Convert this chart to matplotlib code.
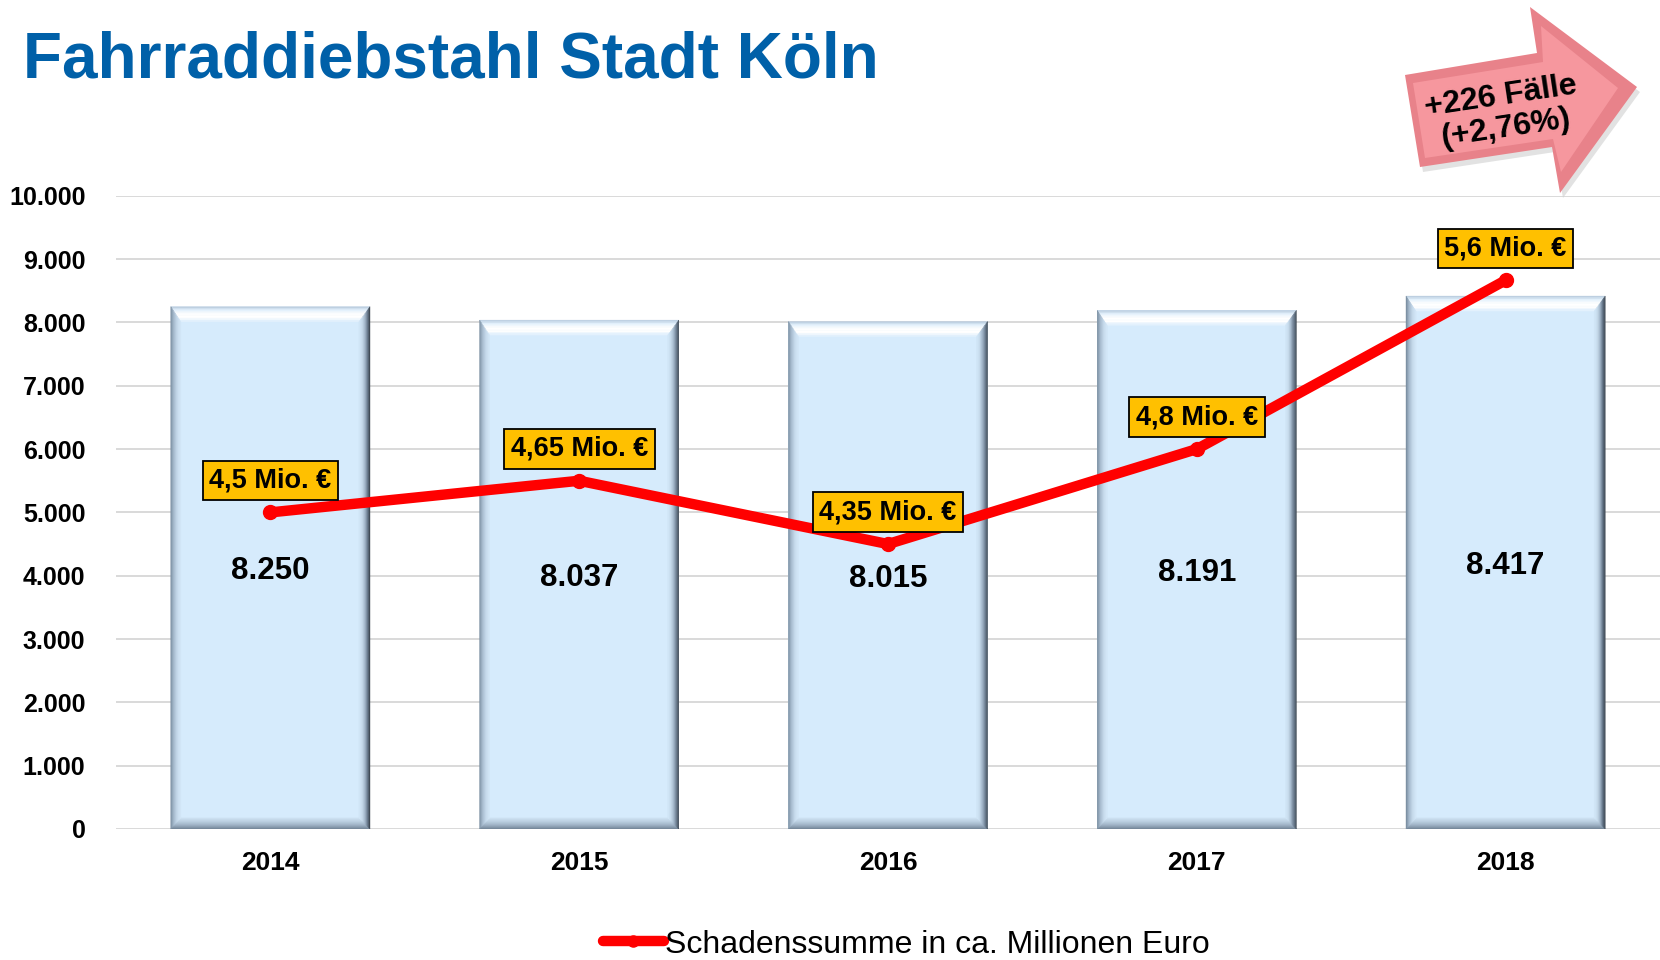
import numpy as np
import matplotlib
matplotlib.use("Agg")
import matplotlib.pyplot as plt
from matplotlib.patches import Polygon
from matplotlib.lines import Line2D
import matplotlib.colors as mcolors

plt.rcParams['font.family'] = ['Liberation Sans', 'DejaVu Sans']

years = ["2014", "2015", "2016", "2017", "2018"]
cases = [8250, 8037, 8015, 8191, 8417]
case_labels = ["8.250", "8.037", "8.015", "8.191", "8.417"]
damage = [4.5, 4.65, 4.35, 4.8, 5.6]
damage_labels = ["4,5 Mio. €", "4,65 Mio. €", "4,35 Mio. €", "4,8 Mio. €", "5,6 Mio. €"]
yticks = [0, 1000, 2000, 3000, 4000, 5000, 6000, 7000, 8000, 9000, 10000]
ytick_labels = ["0", "1.000", "2.000", "3.000", "4.000", "5.000", "6.000", "7.000", "8.000", "9.000", "10.000"]

W, H = 1660, 960
fig = plt.figure(figsize=(W / 100, H / 100), dpi=100)
ax = fig.add_axes([116 / W, 0.1365, 1 - 116 / W, 0.796 - 0.1365])

x = np.arange(len(years))
ax.set_xlim(-0.5, len(years) - 0.5)
ax.set_ylim(0, 10000)
ax.set_yticks(yticks)
ax.set_yticklabels(ytick_labels, fontsize=18, fontweight='bold')
ax.set_xticks(x)
ax.set_xticklabels(years, fontsize=19, fontweight='bold')
ax.tick_params(axis='both', length=0)
ax.tick_params(axis='y', pad=22)
ax.tick_params(axis='x', pad=16)
for s in ax.spines.values():
    s.set_visible(False)
ax.grid(axis='y', color='#D9D9D9', lw=1.4)
ax.set_axisbelow(True)

face = '#D6EBFC'
bars = ax.bar(x, cases, width=0.645, color=face, zorder=2)

# bevel edges derived from each bar's geometry
inv = ax.transData.inverted()
n = 10
side_cfg = {
    'top': (15, ['#B3C7DA', '#E4F1FC', '#FFFFFF', '#FFFFFF', '#DCEEFC']),
    'left': (10, ['#74879A', '#A5B9CC', '#C5D9EA', '#D3E7F8']),
    'right': (11, ['#353E47', '#66778A', '#A2B6C9', '#C6DAEB', '#D3E8F9']),
    'bottom': (11, ['#6F8193', '#95A8BB', '#B6CADC', '#CFE3F4']),
}
def grad(stops, t):
    stops = [np.array(mcolors.to_rgb(c)) for c in stops]
    pos = t * (len(stops) - 1)
    i = min(int(pos), len(stops) - 2)
    f = pos - i
    return tuple(stops[i] + (stops[i + 1] - stops[i]) * f)

for rect in bars:
    x0, y0 = rect.get_x(), rect.get_y()
    x1, y1 = x0 + rect.get_width(), y0 + rect.get_height()
    (X0, Y0), (X1, Y1) = ax.transData.transform([(x0, y0), (x1, y1)])
    bt = side_cfg['top'][0]; bl = side_cfg['left'][0]
    br = side_cfg['right'][0]; bb = side_cfg['bottom'][0]
    for i in range(n):
        a0 = i / n
        a1 = (i + 1) / n
        t = (i + 0.5) / n
        quads = {
            'top': [(X0 + bl * a0, Y1 - bt * a0), (X1 - br * a0, Y1 - bt * a0),
                    (X1 - br * a1, Y1 - bt * a1), (X0 + bl * a1, Y1 - bt * a1)],
            'bottom': [(X0 + bl * a0, Y0 + bb * a0), (X1 - br * a0, Y0 + bb * a0),
                       (X1 - br * a1, Y0 + bb * a1), (X0 + bl * a1, Y0 + bb * a1)],
            'left': [(X0 + bl * a0, Y0 + bb * a0), (X0 + bl * a0, Y1 - bt * a0),
                     (X0 + bl * a1, Y1 - bt * a1), (X0 + bl * a1, Y0 + bb * a1)],
            'right': [(X1 - br * a0, Y0 + bb * a0), (X1 - br * a0, Y1 - bt * a0),
                      (X1 - br * a1, Y1 - bt * a1), (X1 - br * a1, Y0 + bb * a1)],
        }
        for k, q in quads.items():
            c = grad(side_cfg[k][1], t)
            ax.add_patch(Polygon(inv.transform(q), closed=True, facecolor=c,
                                 edgecolor=c, lw=0.3, zorder=3))

for xi, v, lab in zip(x, cases, case_labels):
    ax.text(xi, v / 2, lab, ha='center', va='center_baseline', fontsize=22.5,
            fontweight='bold', zorder=5)

# secondary (hidden) axis for damage line
ax2 = ax.twinx()
ax2.set_ylim(3, 6)
ax2.set_axis_off()
ax2.plot(x, damage, color='#FF0000', lw=7.5, solid_capstyle='round',
         solid_joinstyle='miter', marker='o', ms=10, zorder=5)
for xi, v, lab in zip(x, damage, damage_labels):
    ax2.annotate(lab, (xi, v), xytext=(0, 23), textcoords='offset points',
                 ha='center', va='center', fontsize=19.5, fontweight='bold',
                 bbox=dict(boxstyle='square,pad=0.25', fc='#FFC000', ec='black', lw=1.3),
                 zorder=6)

# title
fig.text(23 / W, 1 - 77 / H, "Fahrraddiebstahl Stadt Köln", fontsize=46,
         fontweight='bold', color='#0060A8', ha='left', va='baseline')

# legend
handle = Line2D([], [], color='#FF0000', lw=7.5, marker='o', ms=8,
                solid_capstyle='round')
fig.legend([handle], ["Schadenssumme in ca. Millionen Euro"], loc='center',
           bbox_to_anchor=(0.546, 0.016), frameon=False, fontsize=23,
           handlelength=1.9, handletextpad=0.05, borderpad=0.1)

# arrow annotation
def fp(px, py):
    return (px / W, 1 - py / H)
arrow_pts = [(1405, 75), (1537, 53), (1530, 7), (1637, 87), (1560, 193), (1552, 147), (1420, 167)]
shadow = [fp(px + 3, py + 5) for px, py in arrow_pts]
fig.add_artist(Polygon(shadow, closed=True, transform=fig.transFigure,
                       facecolor='#CFCFCF', edgecolor='none', alpha=0.6, zorder=9))
fig.add_artist(Polygon([fp(*p) for p in arrow_pts], closed=True, transform=fig.transFigure,
                       facecolor='#E8828A', edgecolor='none', zorder=10))
inner = [(1413, 83), (1543, 62), (1541, 26), (1618, 88), (1561, 172), (1553, 139), (1425, 158)]
fig.add_artist(Polygon([fp(*p) for p in inner], closed=True, transform=fig.transFigure,
                       facecolor='#F6979E', edgecolor='none', zorder=11))
fig.text(*fp(1503, 113), "+226 Fälle\n(+2,76%)", rotation=8.5, rotation_mode='anchor',
         ha='center', va='center', fontsize=23, fontweight='bold', linespacing=1.1,
         zorder=12)

fig.savefig("out.png", dpi=100)
